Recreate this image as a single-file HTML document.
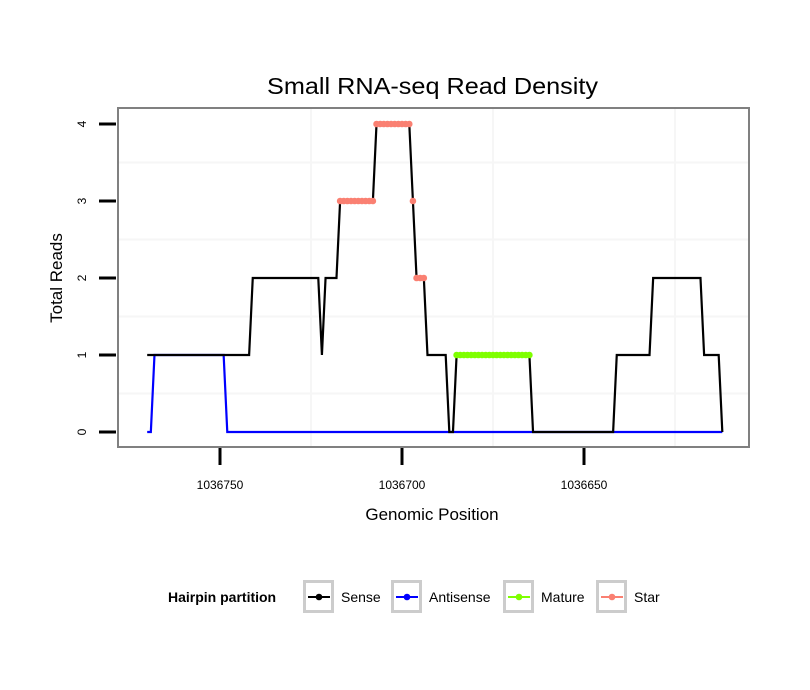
<!DOCTYPE html>
<html><head><meta charset="utf-8"><style>
body{margin:0;background:#fff;}
svg{display:block;font-family:"Liberation Sans",sans-serif;}
</style></head><body>
<svg id="chart" width="810" height="690" viewBox="0 0 810 690">
<rect x="0" y="0" width="810" height="690" fill="#fff"/>
<text x="432.5" y="94" font-size="23" text-anchor="middle" textLength="331" lengthAdjust="spacingAndGlyphs">Small RNA-seq Read Density</text>
<g id="grid"></g>
<g id="series"></g>
<rect x="118" y="108" width="631" height="339" fill="none" stroke="#808080" stroke-width="2"/>
<g id="axes"></g>
<text x="432" y="520" font-size="17" text-anchor="middle">Genomic Position</text>
<text transform="translate(62,278) rotate(-90)" font-size="17" text-anchor="middle">Total Reads</text>
<g id="legend">
<text x="168" y="602" font-size="14" font-weight="bold">Hairpin partition</text>
</g>
</svg>
<script>
// Data
const xTicks = [1036750, 1036700, 1036650];
const yTicks = [0, 1, 2, 3, 4];
const sensePos = [1036770,1036742,1036741,1036723,1036722,1036721,1036718,1036717,1036708,1036707,1036698,1036697,1036696,1036694,1036693,1036688,1036687,1036686,1036685,1036665,1036664,1036642,1036641,1036632,1036631,1036618,1036617,1036613,1036612];
const senseVal = [1,1,2,2,1,2,2,3,3,4,4,3,2,2,1,1,0,0,1,1,0,0,1,1,2,2,1,1,0];
const antiPos = [1036770,1036769,1036768,1036749,1036748,1036612];
const antiVal = [0,0,1,1,0,0];
const starStart = [1036717,1036707,1036697,1036696];
const starEnd = [1036708,1036698,1036697,1036694];
const starVal = [3,4,3,2];
const matureStart = [1036685];
const matureEnd = [1036665];
const matureVal = [1];
const legendLabels = ["Sense","Antisense","Mature","Star"];
const legendColors = ["#000000","#0000ff","#7fff00","#fa8072"];

const NS = "http://www.w3.org/2000/svg";
function xs(p){ return 220 + (1036750 - p) * 3.64; }
function ys(v){ return 432 - v * 77; }
function mk(tag, attrs, parent){
  const e = document.createElementNS(NS, tag);
  for (const k in attrs) e.setAttribute(k, attrs[k]);
  parent.appendChild(e);
  return e;
}
const grid = document.getElementById('grid');
const series = document.getElementById('series');
const axes = document.getElementById('axes');
const legend = document.getElementById('legend');

// grid (only faint minor lines visible in reference)
for (let i = 0; i < yTicks.length - 1; i++) {
  const m = mk('line', {x1:118, x2:749, y1:ys((yTicks[i]+yTicks[i+1])/2), y2:ys((yTicks[i]+yTicks[i+1])/2), stroke:'#f6f6f6', 'stroke-width':2}, grid);
  
  
}
const xstep = xTicks[0] - xTicks[1];
for (let i = 0; i < xTicks.length; i++) {
  const mid = xTicks[0] - (i + 0.5) * xstep;
  const px = xs(mid);
  if (px > 118 && px < 749) {
    const m = mk('line', {x1:px, x2:px, y1:108, y2:447, stroke:'#f6f6f6', 'stroke-width':2}, grid);
    
    
  }
}

// series lines
function poly(pos, val, color, name){
  const pts = pos.map((p, i) => xs(p) + ',' + ys(val[i])).join(' ');
  const l = mk('polyline', {points:pts, fill:'none', stroke:color, 'stroke-width':2.2, 'stroke-linejoin':'miter'}, series);
  
  
}
poly(antiPos, antiVal, '#0000ff', 'antisense-line');
poly(sensePos, senseVal, '#000000', 'sense-line');
function dots(starts, ends, vals, color, name){
  for (let i = 0; i < starts.length; i++) {
    const hi = Math.max(starts[i], ends[i]), lo = Math.min(starts[i], ends[i]);
    for (let p = hi; p >= lo; p--) {
      const c = mk('circle', {cx:xs(p), cy:ys(vals[i]), r:3.3, fill:color}, series);
      
      
    }
  }
}
dots(starStart, starEnd, starVal, '#fa8072', 'star-point');
dots(matureStart, matureEnd, matureVal, '#7fff00', 'mature-point');

// axes ticks
for (let i = 0; i < yTicks.length; i++) {
  const t = mk('line', {x1:99, x2:116, y1:ys(yTicks[i]), y2:ys(yTicks[i]), stroke:'#000', 'stroke-width':3}, axes);
  
  
  const lb = mk('text', {transform:'translate(86,' + ys(yTicks[i]) + ') rotate(-90)', 'font-size':12, 'text-anchor':'middle'}, axes);
  lb.textContent = yTicks[i];
  
  
}
for (let i = 0; i < xTicks.length; i++) {
  const t = mk('line', {x1:xs(xTicks[i]), x2:xs(xTicks[i]), y1:448, y2:465, stroke:'#000', 'stroke-width':3}, axes);
  
  
  const lb = mk('text', {x:xs(xTicks[i]), y:489, 'font-size':12, 'text-anchor':'middle'}, axes);
  lb.textContent = xTicks[i];
  
  
}

// legend
const boxX = [303, 391, 503, 596];
for (let i = 0; i < legendLabels.length; i++) {
  const b = mk('rect', {x:boxX[i]+1.5, y:581.5, width:28, height:30, fill:'#fff', stroke:'#cccccc', 'stroke-width':3}, legend);
  
  
  const l = mk('line', {x1:boxX[i]+5, x2:boxX[i]+27, y1:597, y2:597, stroke:legendColors[i], 'stroke-width':2}, legend);
  
  
  const c = mk('circle', {cx:boxX[i]+16, cy:597, r:3.3, fill:legendColors[i]}, legend);
  
  
  const t = mk('text', {x:boxX[i]+38, y:602, 'font-size':14}, legend);
  t.textContent = legendLabels[i];
  
  
}
</script>
</body></html>
